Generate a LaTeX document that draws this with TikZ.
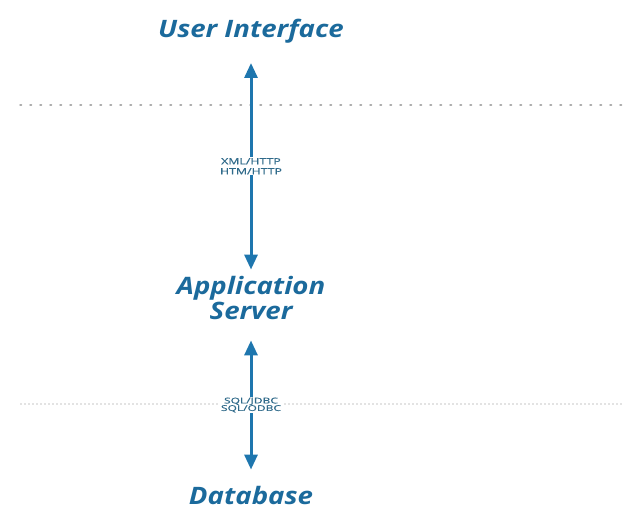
\documentclass[tikz,border=0pt]{standalone}
\usepackage{fontspec}
\setmainfont{Open Sans}
\usetikzlibrary{arrows.meta}
\definecolor{tiername}{HTML}{1B6A9C}
\definecolor{linkblue}{HTML}{1E76AE}
\definecolor{protocol}{HTML}{2F6A8A}
\begin{document}
\begin{tikzpicture}[x=1pt,y=-1pt,
    tier/.style={inner sep=0pt,anchor=base,align=center,text=tiername,
      font=\fontsize{24}{25}\selectfont\bfseries\itshape\addfontfeatures{FakeStretch=1.15}},
    link/.style={linkblue,line width=3pt,{Triangle[width=13pt,length=15pt]}-{Triangle[width=13pt,length=15pt]}},
    proto/.style={fill=white,inner sep=1pt,align=center,text=protocol,
      font=\fontsize{8.5}{10}\selectfont\addfontfeatures{FakeStretch=1.45,FakeBold=0.6}}]
      \useasboundingbox (0,0) rectangle (627,510);
      % separators between the tiers
      \draw[gray!65,line width=1.5pt,dash pattern=on 1.5pt off 8.5pt,line cap=round] (20,105) -- (622,105);
      \draw[gray!22,line width=1.2pt,dash pattern=on 2pt off 2pt] (20,404) -- (622,404);
      % tiers
      \node[tier] (ui) at (251,38) {User Interface};
      \node[tier] (app) at (251,320) {Application\\Server};
      \node[tier] (db) at (251,505) {Database};
      % connections
      \draw[link] ([yshift=-25pt]ui.base) -- ([yshift=7pt]app.north)
        node[proto,midway] {XML/HTTP\\HTM/HTTP};
      \draw[link] ([yshift=-20pt]app.south) -- ([yshift=17pt]db.north)
        node[proto,midway,font=\fontsize{8}{7.5}\selectfont\addfontfeatures{FakeStretch=1.5,FakeBold=0.6}] {SQL/JDBC\\SQL/ODBC};
    \end{tikzpicture}
\end{document}
